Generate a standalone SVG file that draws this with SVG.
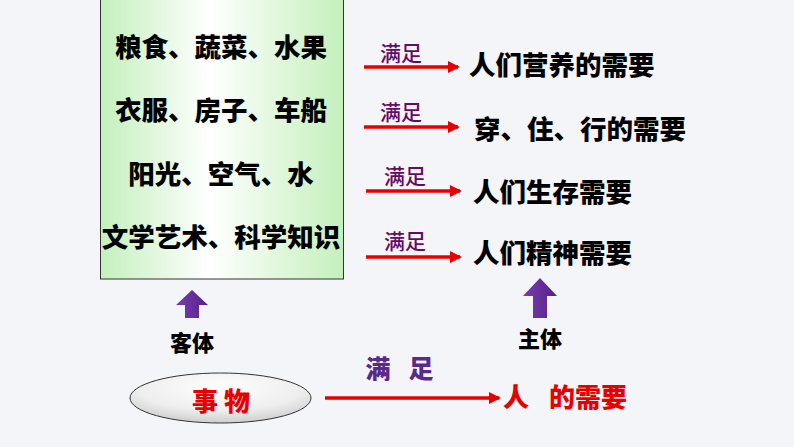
<svg xmlns="http://www.w3.org/2000/svg" width="794" height="447" viewBox="0 0 794 447">
<defs>
<linearGradient id="boxg" x1="0" y1="0" x2="1" y2="0">
<stop offset="0" stop-color="#c4f0bc"/>
<stop offset="0.45" stop-color="#ffffff"/>
<stop offset="1" stop-color="#c4f0bc"/>
</linearGradient>
<radialGradient id="ellg" cx="0.5" cy="0.3" r="0.75">
<stop offset="0" stop-color="#ffffff"/>
<stop offset="0.6" stop-color="#eeeeee"/>
<stop offset="1" stop-color="#c8c8c8"/>
</radialGradient>
<linearGradient id="upg" x1="0" y1="0" x2="1" y2="0">
<stop offset="0" stop-color="#7a3cb0"/>
<stop offset="1" stop-color="#552288"/>
</linearGradient>
<marker id="ah" markerWidth="12" markerHeight="12" refX="10" refY="6" orient="auto" markerUnits="userSpaceOnUse" viewBox="0 0 12 12">
<path d="M0,0 L12,6 L0,12 Z" fill="#e80000"/>
</marker>
</defs>
<style>
text{font-family:"Noto Sans CJK SC","Noto Sans",sans-serif;font-weight:900;dominant-baseline:central}
.item{font-size:26.5px;fill:#000;text-anchor:middle}
.need{font-size:26.5px;fill:#000}
.sat{font-size:21px;fill:#660a66;font-weight:500}
.lbl{font-size:22px;fill:#000;text-anchor:middle}
.red{fill:#e80000;font-size:26px}
.big{fill:#5a2a8a;font-size:25px;text-anchor:middle}
.conn{stroke:#e80000;stroke-width:3.5;fill:none}
</style>
<rect width="794" height="447" fill="#f4f5f9"/>
<g id="box">
<rect x="100.5" y="-1" width="243" height="280" fill="url(#boxg)" stroke="#333" stroke-width="1"/>
<text class="item" x="221" y="45">粮食、蔬菜、水果</text>
<text class="item" x="221" y="108">衣服、房子、车船</text>
<text class="item" x="221" y="172">阳光、空气、水</text>
<text class="item" x="221" y="235">文学艺术、科学知识</text>
</g>
<g id="connectors">
<line class="conn" x1="364" y1="67" x2="458" y2="67" marker-end="url(#ah)"/>
<line class="conn" x1="364" y1="127" x2="458" y2="127" marker-end="url(#ah)"/>
<line class="conn" x1="366" y1="191" x2="460" y2="191" marker-end="url(#ah)"/>
<line class="conn" x1="366" y1="257" x2="460" y2="257" marker-end="url(#ah)"/>
<line class="conn" x1="325" y1="398" x2="499" y2="398" marker-end="url(#ah)"/>
<path d="M192,290 L208,305 L199,305 L199,318 L185,318 L185,305 L176,305 Z" fill="url(#upg)"/>
<path d="M540,278 L557,296 L547,296 L547,318 L533,318 L533,296 L523,296 Z" fill="url(#upg)"/>
</g>
<g id="sat-labels">
<text class="sat" x="380" y="52">满足</text>
<text class="sat" x="380" y="111">满足</text>
<text class="sat" x="384" y="175">满足</text>
<text class="sat" x="384" y="240">满足</text>
</g>
<g id="needs">
<text class="need" x="469" y="63">人们营养的需要</text>
<text class="need" x="474" y="127">穿、住、行的需要</text>
<text class="need" x="473" y="190">人们生存需要</text>
<text class="need" x="473" y="251">人们精神需要</text>
</g>
<g id="object">
<text class="lbl" x="192" y="341">客体</text>
</g>
<g id="subject">
<text class="lbl" x="540" y="337">主体</text>
</g>
<g id="thing">
<ellipse cx="220.5" cy="398" rx="90.5" ry="25" fill="url(#ellg)" stroke="#333" stroke-width="1"/>
<text class="red" x="221" y="399" text-anchor="middle">事 物</text>
</g>
<g id="satisfy">
<text class="big" x="378" y="367">满</text>
<text class="big" x="421" y="367">足</text>
</g>
<g id="human-need">
<text class="red" x="503" y="395">人</text>
<text class="red" x="549" y="395">的需要</text>
</g>
</svg>
